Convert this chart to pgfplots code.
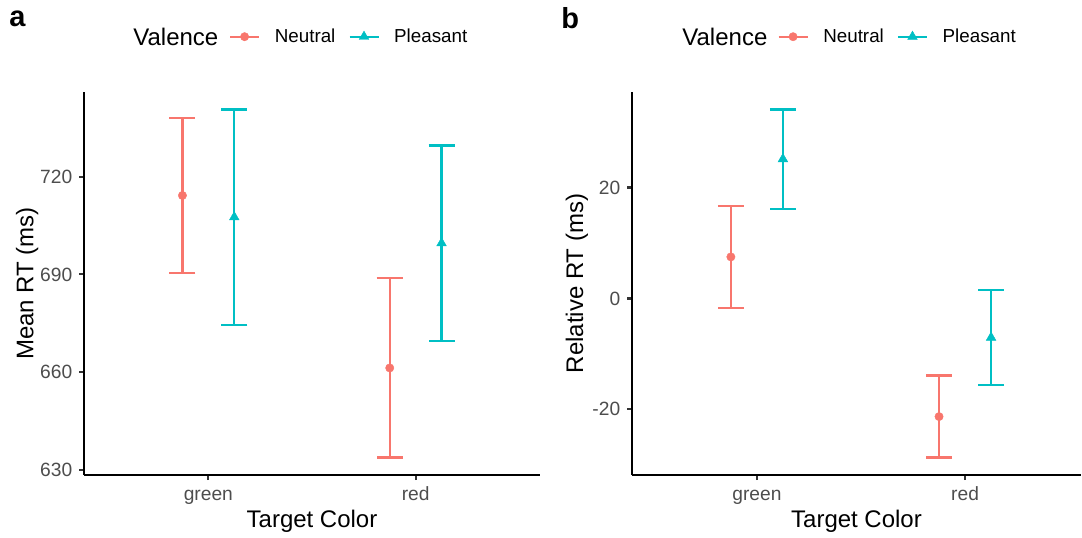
\documentclass[border=0pt]{standalone}
\usepackage{fontspec}
\setmainfont{Liberation Sans}
\usepackage{pgfplots}
\pgfplotsset{compat=1.18}
\definecolor{neut}{HTML}{F8766D}
\definecolor{pleas}{HTML}{00BFC4}
\definecolor{tickgray}{HTML}{4D4D4D}
\definecolor{linegray}{HTML}{333333}

\pgfplotstableread{
x y ep em
0.875 714.25 23.75 23.75
1.875 661.25 27.55 27.55
}\aNeut
\pgfplotstableread{
x y ep em
1.125 707.6 33.1 33.1
2.125 699.6 30.0 30.0
}\aPleas
\pgfplotstableread{
x y ep em
0.875 7.5 9.2 9.2
1.875 -21.3 7.4 7.4
}\bNeut
\pgfplotstableread{
x y ep em
1.125 25.15 8.95 8.95
2.125 -7.05 8.55 8.55
}\bPleas

\pgfplotsset{
  ggstyle/.style={
    scale only axis,
    axis lines=left,
    axis line style={-, line width=1.1pt, black},
    tick align=outside,
    major tick length=2.5pt,
    tick style={line width=1.1pt, color=linegray},
    ticklabel style={font=\fontsize{9.6}{11}\selectfont, text=tickgray, inner sep=0pt},
    /pgf/number format/assume math mode=true,
    label style={font=\fontsize{12}{14}\selectfont},
    xtick={1,2}, xticklabels={green,red},
    xticklabel style={anchor=base, yshift=-10.4pt},
    yticklabel style={anchor=east, xshift=-3.2pt},
    xmin=0.4,
    height=191.5pt,
    clip=false,
    legend columns=-1,
    legend image code/.code={\draw[mark repeat=2, mark phase=2, ##1] plot coordinates {(0pt,0pt) (7.25pt,0pt) (14.5pt,0pt)};},
    legend style={draw=none, fill=none, inner sep=0pt, outer sep=0pt,
      font=\fontsize{9.4}{11}\selectfont, anchor=west,
      nodes={inner sep=0pt},
      /tikz/every odd column/.append style={column sep=7.3pt},
      /tikz/every even column/.append style={column sep=6.5pt}},
  },
  neutplot/.style={forget plot, neut, only marks, mark=*, mark size=2.1pt, mark options={solid, line width=0.2pt},
    error bars/.cd, y dir=both, y explicit,
    error bar style={line width=1.1pt, neut},
    error mark options={rotate=90, mark size=6.5pt, line width=1.1pt, neut},
    /pgfplots/.cd},
  pleasplot/.style={forget plot, pleas, only marks, mark=triangle*, mark size=2.8pt, mark options={solid, line width=0.2pt},
    error bars/.cd, y dir=both, y explicit,
    error bar style={line width=1.1pt, pleas},
    error mark options={rotate=90, mark size=6.5pt, line width=1.1pt, pleas},
    /pgfplots/.cd},
}

\begin{document}
\begin{tikzpicture}
\useasboundingbox (0,0) rectangle (541pt,268.5pt);

% Panel a
\begin{axis}[ggstyle,
  at={(42pt,31pt)}, anchor=south west,
  width=228pt,
  xmax=2.6,
  ymin=628.35, ymax=746.05,
  ytick={630,660,690,720},
  xlabel={Target Color},
  ylabel={Mean RT (ms)},
  xlabel style={at={(axis description cs:0.5,-0.1376)}, anchor=base},
  ylabel style={at={(axis description cs:-0.1112,0.5)}, anchor=base},
  legend style={at={(axis description cs:0.3180,1.1444)}},
]
\addlegendimage{neut, line width=1.1pt, mark=*, mark size=2.1pt, mark options={solid, line width=0.2pt}}
\addlegendentry{Neutral}
\addlegendimage{pleas, line width=1.1pt, mark=triangle*, mark size=2.8pt, mark options={solid, line width=0.2pt}}
\addlegendentry{Pleasant}
\addplot[neutplot] table[x=x, y=y, y error plus=ep, y error minus=em] {\aNeut};
\addplot[pleasplot] table[x=x, y=y, y error plus=ep, y error minus=em] {\aPleas};
\end{axis}

% Panel b
\begin{axis}[ggstyle,
  at={(316pt,31pt)}, anchor=south west,
  width=224.5pt,
  xmax=2.557,
  ymin=-31.84, ymax=37.24,
  ytick={-20,0,20},
  xlabel={Target Color},
  ylabel={Relative RT (ms)},
  xlabel style={at={(axis description cs:0.5,-0.1376)}, anchor=base},
  ylabel style={at={(axis description cs:-0.1091,0.5)}, anchor=base},
  legend style={at={(axis description cs:0.3240,1.1444)}},
]
\addlegendimage{neut, line width=1.1pt, mark=*, mark size=2.1pt, mark options={solid, line width=0.2pt}}
\addlegendentry{Neutral}
\addlegendimage{pleas, line width=1.1pt, mark=triangle*, mark size=2.8pt, mark options={solid, line width=0.2pt}}
\addlegendentry{Pleasant}
\addplot[neutplot] table[x=x, y=y, y error plus=ep, y error minus=em] {\bNeut};
\addplot[pleasplot] table[x=x, y=y, y error plus=ep, y error minus=em] {\bPleas};
\end{axis}

\node[anchor=west, inner sep=0pt, font=\fontsize{12}{14}\selectfont] at (66.5pt,250.2pt) {Valence};
\node[anchor=west, inner sep=0pt, font=\fontsize{12}{14}\selectfont] at (341pt,250.2pt) {Valence};
\node[anchor=base west, inner sep=0pt, font=\bfseries\fontsize{14.5}{16}\selectfont] at (4.5pt,255pt) {a};
\node[anchor=base west, inner sep=0pt, font=\bfseries\fontsize{14.5}{16}\selectfont] at (280.5pt,254.5pt) {b};
\end{tikzpicture}
\end{document}
